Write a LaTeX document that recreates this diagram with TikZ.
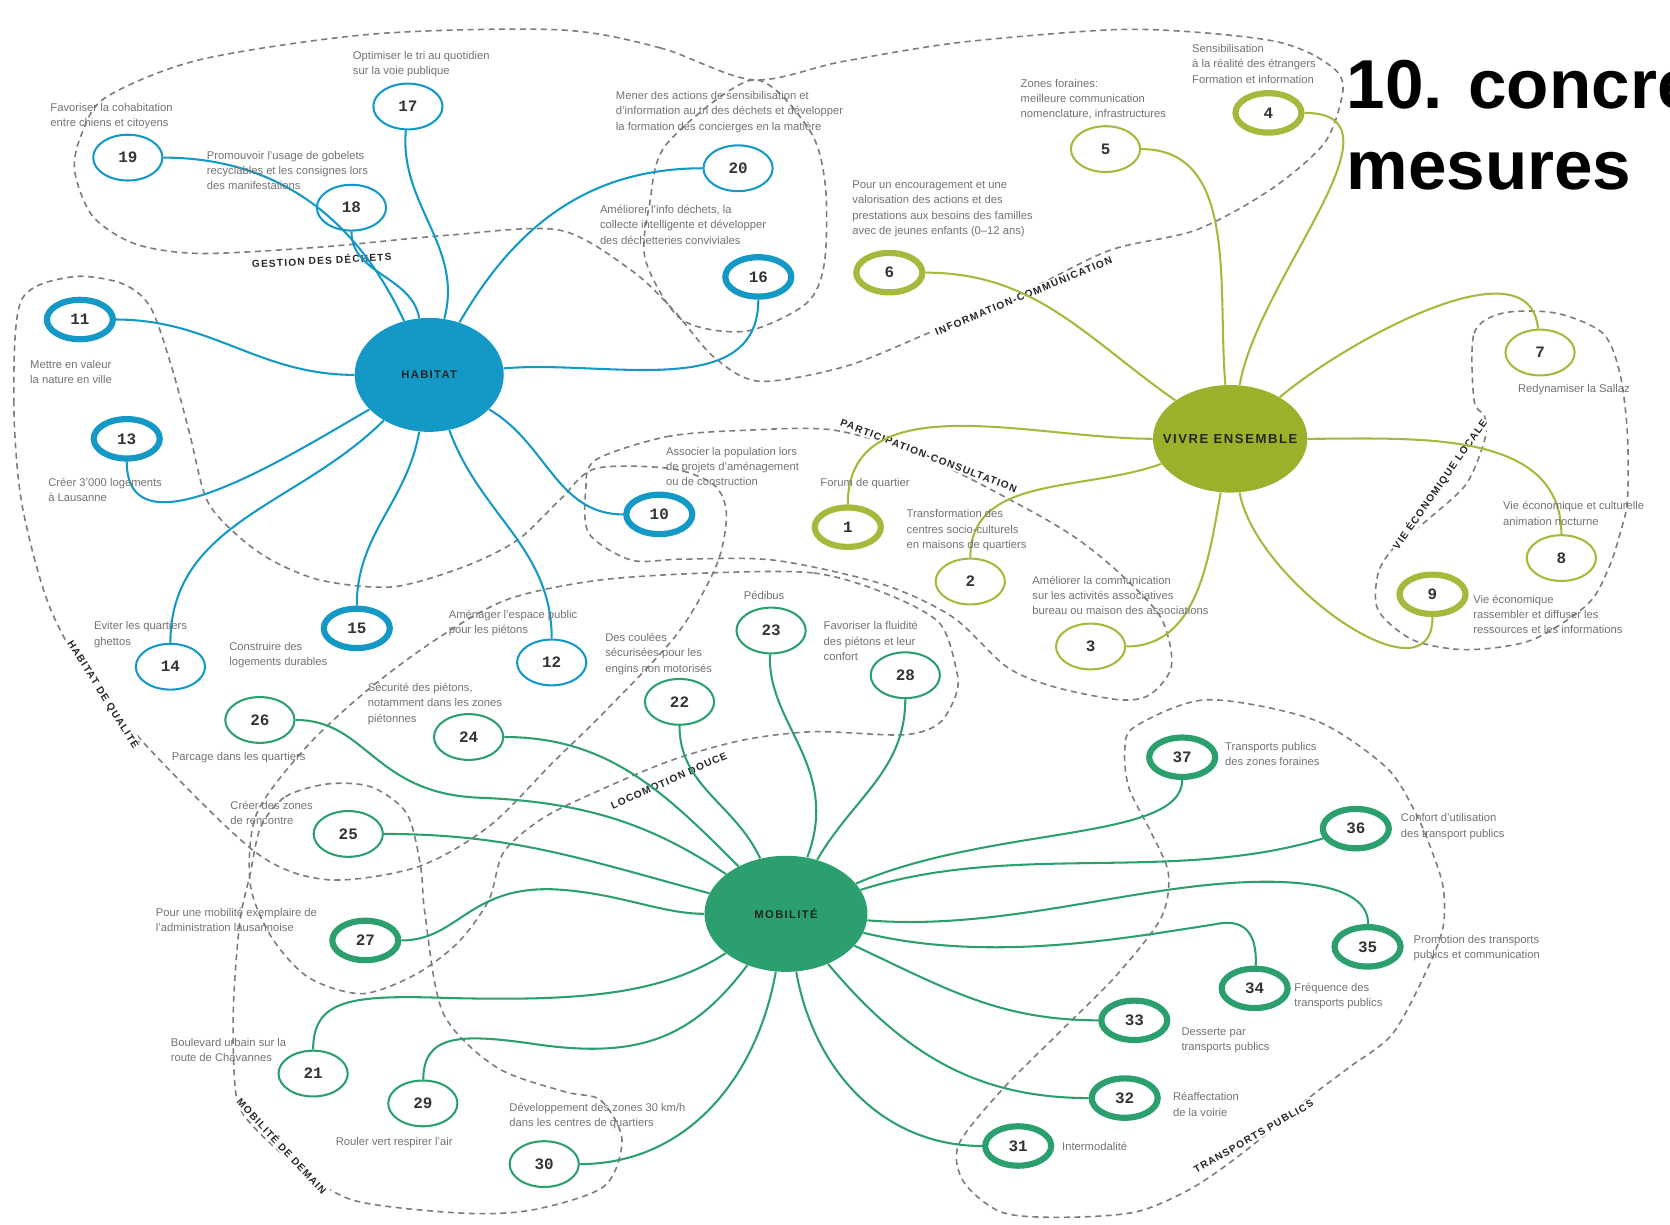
\documentclass[tikz,border=0pt]{standalone}
\usepackage{fontspec}
\setmainfont{Liberation Sans}
\newfontfamily\numfont{Liberation Mono}
\newfontfamily\grpfont{Liberation Sans}[LetterSpace=12]
\usetikzlibrary{shapes.geometric, positioning}
\definecolor{habblue}{HTML}{1499C6}
\definecolor{vivring}{HTML}{A5BA3C}
\definecolor{vivhub}{HTML}{9CB12B}
\definecolor{mobgreen}{HTML}{2BA06E}
\definecolor{txtgray}{HTML}{727272}
\definecolor{dashgray}{HTML}{7C7C7C}

\begin{document}
\begin{tikzpicture}[x=0.02cm, y=0.02cm,
			hub/.style={ellipse, inner sep=0pt, font=\grpfont\bfseries\fontsize{6}{7}\selectfont, text=black!85},
			mn/.style={ellipse, draw, fill=white, line width=1.1pt, minimum width=1.3cm, minimum height=0.86cm, inner sep=0pt, font=\numfont\bfseries\fontsize{8.5}{9}\selectfont, text=black!80},
			key/.style={line width=3.3pt, minimum width=1.24cm, minimum height=0.74cm},
			hab/.style={draw=habblue},
			viv/.style={draw=vivring},
			mob/.style={draw=mobgreen},
			link/.style={line width=1.1pt},
			txt/.style={anchor=west, align=left, inner sep=0pt, text=txtgray, font=\fontsize{6}{8.2}\selectfont},
			grp/.style={fill=white, inner sep=0.8pt, font=\grpfont\bfseries\fontsize{5.4}{6}\selectfont, text=black!85},
			zone/.style={draw=dashgray, line width=0.85pt, dash pattern=on 3.2pt off 2.4pt}
			]
			\useasboundingbox (0,0) rectangle (1568,1150);
			% dashed groups
			\draw[zone] plot[smooth cycle] coordinates {(707,1075) (620,1105) (525,1122) (350,1118) (188,1094) (100,1059) (77,1025) (70,990) (87,947) (127,921) (188,912) (301,918) (419,929) (525,934) (593,896) (633,858) (670,815) (713,792) (794,806) (871,837) (960,875) (1042,915) (1123,934) (1193,972) (1243,1015) (1260,1059) (1257,1081) (1230,1100) (1193,1112) (1120,1120) (1042,1122) (900,1110) (790,1092)};
			\draw[zone] plot[smooth cycle] coordinates {(707,1075) (760,1028) (775,975) (774,903) (757,865) (700,839) (640,850) (606,906) (610,959) (626,1015)};
			\draw[zone] plot[smooth cycle] coordinates {(20,868) (13,774) (20,680) (44,587) (77,524) (141,446) (241,349) (308,324) (392,336) (459,374) (520,435) (569,483) (636,555) (673,620) (682,668) (670,695) (630,710) (559,710) (525,680) (486,643) (436,618) (369,599) (302,605) (255,624) (221,649) (194,681) (178,743) (161,806) (141,862) (114,884) (67,890)};
			\draw[zone] plot[smooth cycle] coordinates {(559,718) (626,740) (700,746) (784,746) (870,720) (961,674) (1010,645) (1051,612) (1090,570) (1100,525) (1080,498) (1051,493) (990,505) (945,524) (894,571) (827,602) (727,624) (640,625) (593,624) (553,649) (550,690)};
			\draw[zone] plot[smooth cycle] coordinates {(664,612) (764,612) (831,593) (882,565) (898,521) (898,499) (882,471) (848,460) (764,463) (697,455) (630,436) (563,408) (510,382) (473,350) (459,305) (430,265) (390,235) (340,217) (290,232) (255,270) (235,320) (241,386) (288,449) (345,502) (410,550) (476,587) (560,605)};
			\draw[zone] plot[smooth cycle] coordinates {(245,374) (268,402) (308,414) (349,411) (382,386) (395,336) (399,292) (416,199) (466,148) (530,125) (564,117) (584,80) (567,36) (500,14) (433,11) (332,23) (280,55) (240,90) (222,120) (219,199) (225,283) (235,330)};
			\draw[zone] plot[smooth cycle] coordinates {(1066,468) (1133,493) (1234,474) (1301,430) (1328,389) (1344,352) (1355,317) (1355,280) (1341,242) (1308,180) (1267,148) (1230,120) (1170,70) (1120,35) (1066,12) (994,7) (940,12) (905,40) (900,75) (940,126) (994,180) (1048,234) (1090,288) (1097,330) (1080,370) (1060,410) (1056,446)};
			\draw[zone] plot[smooth cycle] coordinates {(1384,774) (1384,837) (1411,856) (1461,856) (1505,837) (1521,799) (1528,743) (1528,680) (1521,649) (1511,618) (1491,583) (1438,549) (1377,540) (1327,549) (1294,577) (1294,612) (1310,637) (1344,665) (1377,696) (1394,737) (1394,759)};
			\node[grp, rotate=3] (gdechets) at (302,906) {GESTION DES DÉCHETS};
			\node[grp, rotate=22.5] (ginfo) at (961,872) {INFORMATION-COMMUNICATION};
			\node[grp, rotate=-21] (gpart) at (872,722) {PARTICIPATION-CONSULTATION};
			\node[grp, rotate=55] (gvie) at (1352,695) {VIE ÉCONOMIQUE LOCALE};
			\node[grp, rotate=-58] (ghq) at (97,498) {HABITAT DE QUALITÉ};
			\node[grp, rotate=24] (gloco) at (628,417) {LOCOMOTION DOUCE};
			\node[grp, rotate=-47] (gmdd) at (265,74) {MOBILITÉ DE DEMAIN};
			\node[grp, rotate=30] (gtp) at (1177,83) {TRANSPORTS PUBLICS};
			% hubs
			\node[hub, fill=habblue, minimum width=2.8cm, minimum height=2.14cm] (habitat) at (403,798) {HABITAT};
			\node[hub, fill=vivhub, minimum width=2.9cm, minimum height=2.02cm, font=\grpfont\bfseries\fontsize{7}{8}\selectfont] (vivre) at (1155,738) {\makebox[0pt]{VIVRE ENSEMBLE}};
			\node[hub, fill=mobgreen, minimum width=3.06cm, minimum height=2.18cm] (mobilite) at (738,292) {MOBILITÉ};
			% habitat
			\node[mn, hab] (m17) at (383,1050) {17};
			\node[mn, hab] (m19) at (120,1002) {19};
			\node[mn, hab] (m18) at (330,955) {18};
			\node[mn, hab] (m20) at (693,992) {20};
			\node[mn, hab, key] (m16) at (712,890) {16};
			\node[mn, hab, key] (m11) at (75,850) {11};
			\node[mn, hab, key] (m13) at (119,738) {13};
			\node[mn, hab, key] (m10) at (619,667) {10};
			\node[mn, hab, key] (m15) at (335,560) {15};
			\node[mn, hab] (m14) at (160,524) {14};
			\node[mn, hab] (m12) at (518,528) {12};
			% vivre ensemble
			\node[mn, viv, key] (m4) at (1191,1044) {4};
			\node[mn, viv] (m5) at (1038,1010) {5};
			\node[mn, viv, key] (m6) at (835,894) {6};
			\node[mn, viv] (m7) at (1446,819) {7};
			\node[mn, viv, key] (m1) at (796,655) {1};
			\node[mn, viv] (m2) at (911,604) {2};
			\node[mn, viv] (m3) at (1024,543) {3};
			\node[mn, viv] (m8) at (1466,626) {8};
			\node[mn, viv, key] (m9) at (1345,592) {9};
			% mobilite
			\node[mn, mob] (m23) at (724,558) {23};
			\node[mn, mob] (m28) at (850,516) {28};
			\node[mn, mob] (m22) at (638,491) {22};
			\node[mn, mob] (m26) at (244,474) {26};
			\node[mn, mob] (m24) at (440,458) {24};
			\node[mn, mob] (m25) at (327,367) {25};
			\node[mn, mob, key] (m27) at (343,267) {27};
			\node[mn, mob] (m21) at (294,142) {21};
			\node[mn, mob] (m29) at (397,114) {29};
			\node[mn, mob] (m30) at (511,57) {30};
			\node[mn, mob, key] (m31) at (956,74) {31};
			\node[mn, mob, key] (m32) at (1056,119) {32};
			\node[mn, mob, key] (m33) at (1065,192) {33};
			\node[mn, mob, key] (m34) at (1178,222) {34};
			\node[mn, mob, key] (m35) at (1284,261) {35};
			\node[mn, mob, key] (m36) at (1273,372) {36};
			\node[mn, mob, key] (m37) at (1110,439) {37};
			% links
			\draw[link, habblue] (habitat) to[out=75, in=-95] (m17);
			\draw[link, habblue] (habitat) to[out=115, in=0] (m19);
			\draw[link, habblue] (habitat) to[out=100, in=-90] (m18);
			\draw[link, habblue] (habitat) to[out=60, in=180] (m20);
			\draw[link, habblue] (habitat) to[out=5, in=-90] (m16);
			\draw[link, habblue] (habitat) to[out=180, in=0] (m11);
			\draw[link, habblue] (habitat) to[out=210, in=-90] (m13);
			\draw[link, habblue] (habitat) to[out=-30, in=180] (m10);
			\draw[link, habblue] (habitat) to[out=-100, in=90] (m15);
			\draw[link, habblue] (habitat) to[out=-135, in=90] (m14);
			\draw[link, habblue] (habitat) to[out=-70, in=90] (m12);
			\draw[link, vivring] (vivre) to[out=80, in=0] (m4);
			\draw[link, vivring] (vivre) to[out=95, in=0] (m5);
			\draw[link, vivring] (vivre) to[out=145, in=0] (m6);
			\draw[link, vivring] (vivre) to[out=40, in=95, looseness=0.85] (m7);
			\draw[link, vivring] (vivre) to[out=0, in=90] (m8);
			\draw[link, vivring] (vivre) to[out=-80, in=-90] (m9);
			\draw[link, vivring] (vivre) to[out=-100, in=0] (m3);
			\draw[link, vivring] (vivre) to[out=180, in=90] (m1);
			\draw[link, vivring] (vivre) to[out=200, in=90] (m2);
			\draw[link, mobgreen] (mobilite) .. controls (790,430) and (720,470) .. (m23);
			\draw[link, mobgreen] (mobilite) to[out=60, in=-90] (m28);
			\draw[link, mobgreen] (mobilite) to[out=115, in=-90] (m22);
			\draw[link, mobgreen] (m26) .. controls (345,474) and (350,405) .. (450,401) .. controls (560,397) and (620,370) .. (mobilite);
			\draw[link, mobgreen] (mobilite) to[out=135, in=0] (m24);
			\draw[link, mobgreen] (mobilite) to[out=165, in=0] (m25);
			\draw[link, mobgreen] (m27) .. controls (430,267) and (440,318) .. (520,315) .. controls (580,312) and (620,292) .. (mobilite);
			\draw[link, mobgreen] (m21) .. controls (294,212) and (330,216) .. (420,213) .. controls (540,210) and (620,215) .. (mobilite);
			\draw[link, mobgreen] (m29) .. controls (398,178) and (430,180) .. (500,170) .. controls (600,155) and (650,175) .. (mobilite);
			\draw[link, mobgreen] (mobilite) to[out=-100, in=0] (m30);
			\draw[link, mobgreen] (mobilite) to[out=-80, in=180] (m31);
			\draw[link, mobgreen] (mobilite) to[out=-50, in=180] (m32);
			\draw[link, mobgreen] (mobilite) to[out=-25, in=180] (m33);
			\draw[link, mobgreen] (mobilite) .. controls (930,245) and (1060,270) .. (1140,282) .. controls (1175,290) and (1180,265) .. (m34);
			\draw[link, mobgreen] (mobilite) .. controls (950,275) and (1080,325) .. (1200,322) .. controls (1260,320) and (1285,305) .. (m35);
			\draw[link, mobgreen] (mobilite) .. controls (950,360) and (1100,320) .. (m36);
			\draw[link, mobgreen] (mobilite) .. controls (930,375) and (1110,360) .. (m37);
			% texts
			\node[txt] (t17) at (331,1090) {Optimiser le tri au quotidien\\sur la voie publique};
			\node[txt] (t19) at (47,1041) {Favoriser la cohabitation\\entre chiens et citoyens};
			\node[txt] (t18) at (194,990) {Promouvoir l'usage de gobelets\\recyclables et les consignes lors\\des manifestations};
			\node[txt] (t20) at (578,1045) {Mener des actions de sensibilisation et\\d'information au tri des déchets et développer\\la formation des concierges en la matière};
			\node[txt] (t16) at (563,939) {Améliorer l'info déchets, la\\collecte intelligente et développer\\des déchetteries conviviales};
			\node[txt] (t5) at (958,1057) {Zones foraines:\\meilleure communication\\nomenclature, infrastructures};
			\node[txt] (t4) at (1119,1090) {Sensibilisation\\à la réalité des étrangers\\Formation et information};
			\node[txt] (t6) at (800,954) {Pour un encouragement et une\\valorisation des actions et des\\prestations aux besoins des familles\\avec de jeunes enfants (0–12 ans)};
			\node[txt] (t11) at (28,801) {Mettre en valeur\\la nature en ville};
			\node[txt] (t13) at (45,690) {Créer 3'000 logements\\à Lausanne};
			\node[txt] (t10) at (625,712) {Associer la population lors\\de projets d'aménagement\\ou de construction};
			\node[txt] (t1) at (770,696) {Forum de quartier};
			\node[txt] (t2) at (851,652) {Transformation des\\centres socio-culturels\\en maisons de quartiers};
			\node[txt] (t3) at (969,591) {Améliorer la communication\\sur les activités associatives\\bureau ou maison des associations};
			\node[txt] (t7) at (1425,784) {Redynamiser la Sallaz};
			\node[txt] (t8) at (1411,668) {Vie économique et culturelle\\animation nocturne};
			\node[txt] (t9) at (1383,573) {Vie économique\\rassembler et diffuser les\\ressources et les informations};
			\node[txt] (t14) at (88,554) {Eviter les quartiers\\ghettos};
			\node[txt] (t15) at (215,535) {Construire des\\logements durables};
			\node[txt] (t12) at (421,565) {Aménager l'espace public\\pour les piétons};
			\node[txt] (t23) at (698,591) {Pédibus};
			\node[txt] (t28) at (773,548) {Favoriser la fluidité\\des piétons et leur\\confort};
			\node[txt] (t22) at (568,536) {Des coulées\\sécurisées pour les\\engins non motorisés};
			\node[txt] (t24) at (345,489) {Sécurité des piétons,\\notamment dans les zones\\piétonnes};
			\node[txt] (t26) at (161,439) {Parcage dans les quartiers};
			\node[txt] (t25) at (216,387) {Créer des zones\\de rencontre};
			\node[txt] (t27) at (146,286) {Pour une mobilité exemplaire de\\l'administration lausannoise};
			\node[txt] (t21) at (160,164) {Boulevard urbain sur la\\route de Chavannes};
			\node[txt] (t29) at (315,77) {Rouler vert respirer l'air};
			\node[txt] (t30) at (478,102) {Développement des zones 30 km/h\\dans les centres de quartiers};
			\node[txt] (t31) at (997,74) {Intermodalité};
			\node[txt] (t32) at (1101,113) {Réaffectation\\de la voirie};
			\node[txt] (t33) at (1109,173) {Desserte par\\transports publics};
			\node[txt] (t34) at (1215,215) {Fréquence des\\transports publics};
			\node[txt] (t35) at (1327,260) {Promotion des transports\\publics et communication};
			\node[txt] (t36) at (1315,374) {Confort d'utilisation\\des transport publics};
			\node[txt] (t37) at (1150,442) {Transports publics\\des zones foraines};
			% title
			\node[anchor=base west, inner sep=0pt, font=\bfseries\fontsize{37}{43}\selectfont] (title) at (1264,1048) {10. concre};
			\node[anchor=base west, inner sep=0pt, font=\bfseries\fontsize{37}{43}\selectfont] (title2) at (1264,972) {mesures};
		\end{tikzpicture}
\end{document}
